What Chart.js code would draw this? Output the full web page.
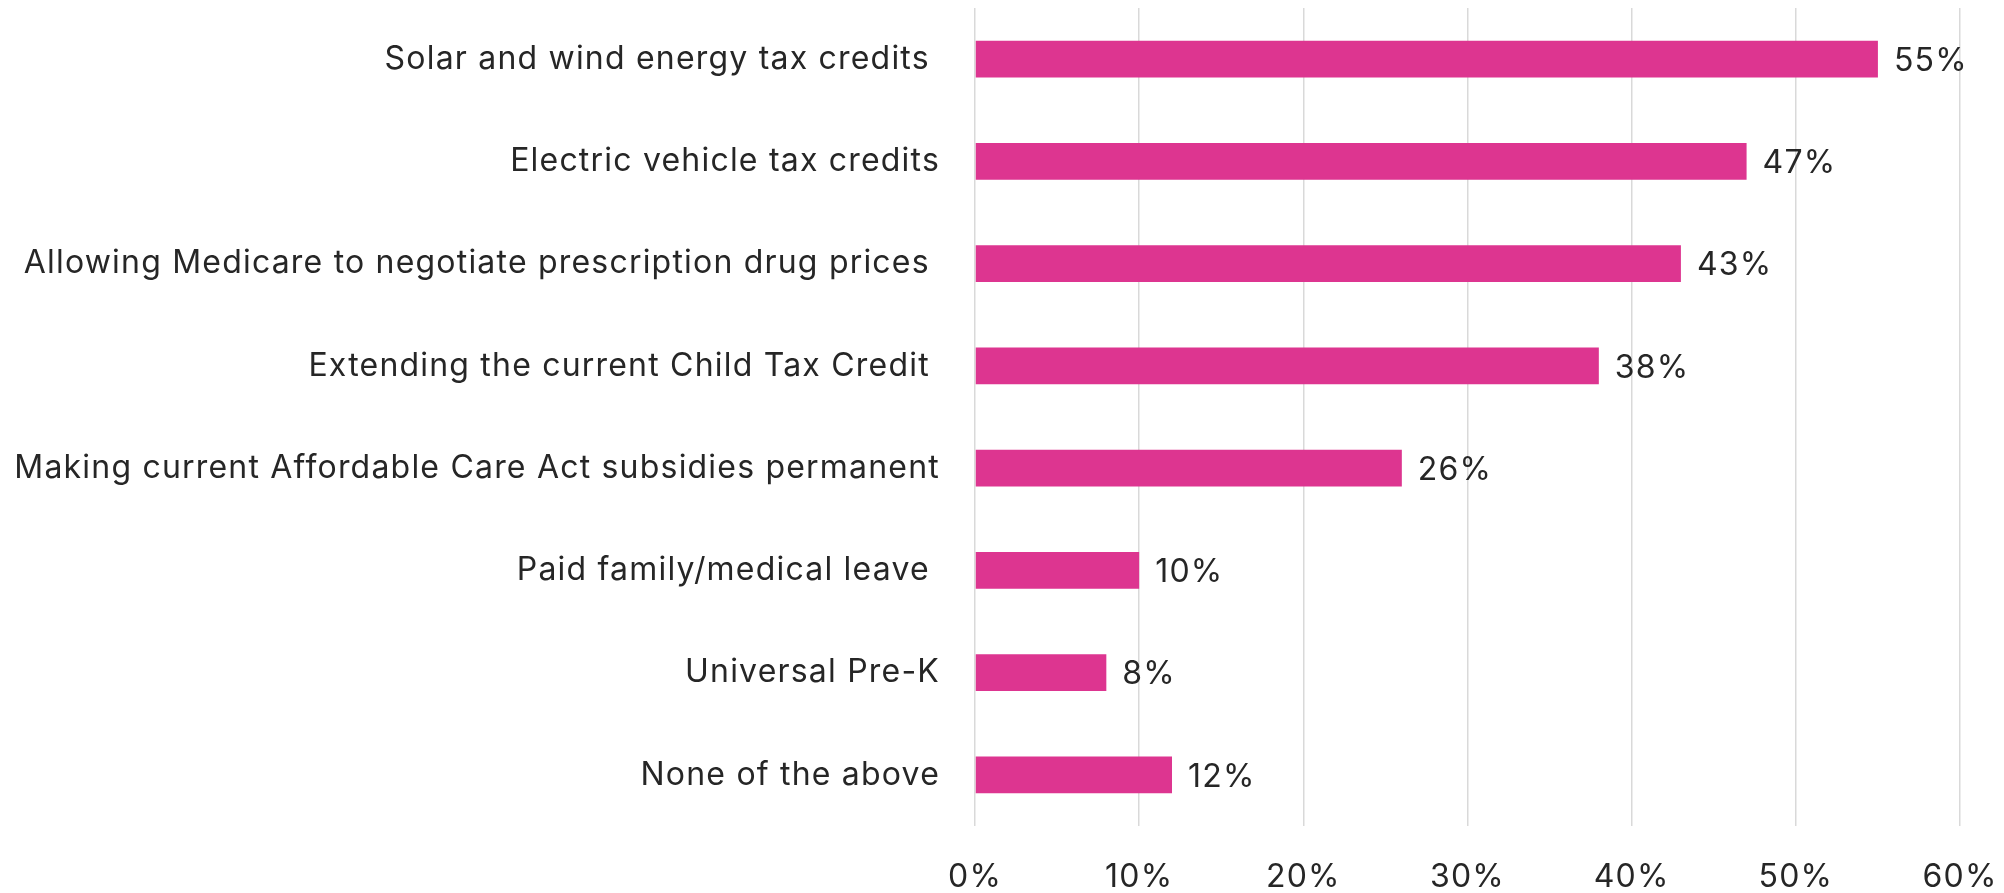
<!DOCTYPE html>
<html>
<head>
<meta charset="utf-8">
<script src="https://cdn.jsdelivr.net/npm/chart.js@4/dist/chart.umd.min.js"></script>
<style>
html,body{margin:0;padding:0;background:#fff;}
#wrap{width:2004px;height:893px;position:relative;}
</style>
</head>
<body>
<div id="wrap"><canvas id="c"></canvas></div>
<script>
const categories = [
  "Solar and wind energy tax credits ",
  "Electric vehicle tax credits",
  "Allowing Medicare to negotiate prescription drug prices ",
  "Extending the current Child Tax Credit ",
  "Making current Affordable Care Act subsidies permanent",
  "Paid family/medical leave ",
  "Universal Pre-K",
  "None of the above"
];
const values = [55, 47, 43, 38, 26, 10, 8, 12];
const xTicks = [0, 10, 20, 30, 40, 50, 60];

const FONT = "Inter, 'Noto Sans', sans-serif";
const TEXT = "#262626";
const SPACING = "1.2px";

const spacingPlugin = {
  id: 'spacing',
  beforeInit(chart) { chart.ctx.letterSpacing = SPACING; },
  beforeLayout(chart) { chart.ctx.letterSpacing = SPACING; },
  beforeDraw(chart) { chart.ctx.letterSpacing = SPACING; }
};

const valueLabels = {
  id: 'valueLabels',
  afterDatasetsDraw(chart) {
    const ctx = chart.ctx;
    const meta = chart.getDatasetMeta(0);
    ctx.save();
    ctx.letterSpacing = SPACING;
    ctx.font = "32px " + FONT;
    ctx.fillStyle = TEXT;
    ctx.textAlign = 'left';
    ctx.textBaseline = 'middle';
    meta.data.forEach((bar, i) => {
      ctx.fillText(values[i] + '%', bar.x + 16, bar.y + 2);
    });
    ctx.restore();
  }
};

new Chart(document.getElementById('c'), {
  type: 'bar',
  data: {
    labels: categories,
    datasets: [{
      data: values,
      backgroundColor: '#DD3590',
      borderWidth: 0,
      categoryPercentage: 1,
      barPercentage: 0.36
    }]
  },
  options: {
    indexAxis: 'y',
    responsive: true,
    maintainAspectRatio: false,
    animation: false,
    devicePixelRatio: 1,
    layout: { padding: { top: 8, right: 0, left: 0, bottom: 0 } },
    plugins: { legend: { display: false }, tooltip: { enabled: false } },
    scales: {
      x: {
        min: 0, max: 60,
        afterBuildTicks(axis) { axis.ticks = xTicks.map(v => ({ value: v })); },
        afterFit(axis) {
          axis.height = 67;
          axis.paddingLeft = 0;
          axis.paddingRight = 44;
        },
        grid: { color: '#D9D9D9', lineWidth: 1.5, drawTicks: false },
        border: { display: false },
        ticks: {
          padding: 32,
          maxRotation: 0,
          color: TEXT,
          font: { family: FONT, size: 32 },
          callback: v => v + '%'
        }
      },
      y: {
        afterFit(axis) {
          axis.width = 975;
          axis.paddingTop = 0;
          axis.paddingBottom = 0;
        },
        grid: { display: false, drawTicks: false },
        border: { display: false },
        ticks: {
          padding: 35,
          color: TEXT,
          font: { family: FONT, size: 32 }
        }
      }
    }
  },
  plugins: [spacingPlugin, valueLabels]
});
</script>
</body>
</html>
